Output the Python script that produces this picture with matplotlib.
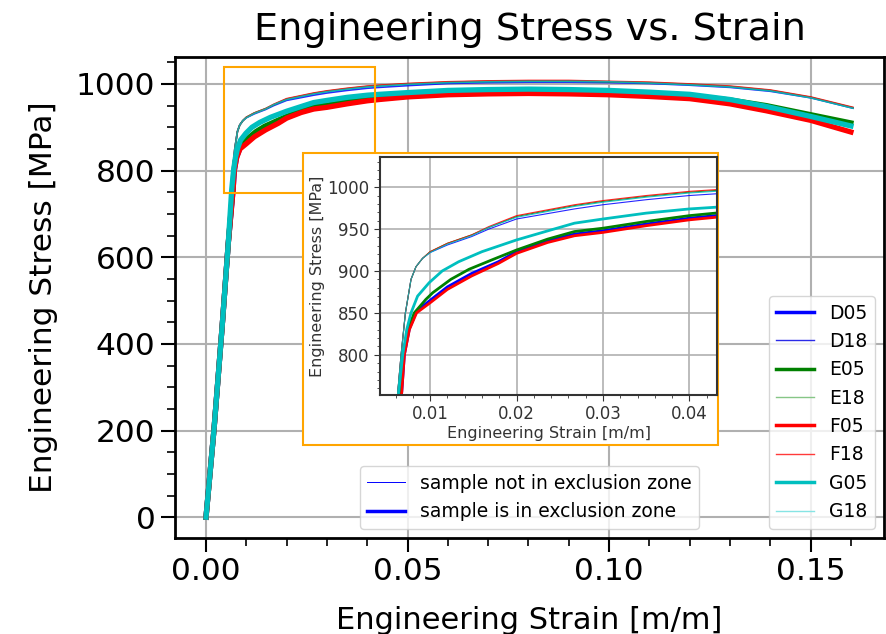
import numpy as np
import matplotlib.pyplot as plt
from matplotlib.lines import Line2D
from matplotlib.patches import Rectangle
from matplotlib.ticker import MultipleLocator

# ---- data ----
tail = [0.050, 0.060, 0.070, 0.080, 0.090, 0.100, 0.110, 0.120, 0.130, 0.140, 0.150, 0.1605]

# "18" samples (thin lines, upper group)
strain_18 = [0, 0.002, 0.004, 0.00626, 0.00664, 0.00714, 0.00779, 0.00836, 0.00912, 0.010,
             0.012, 0.0148, 0.0168, 0.020, 0.0267, 0.030, 0.035, 0.040, 0.043] + tail
d18 = [0, 205, 440, 756, 800, 850, 890, 905, 915, 922, 931, 941, 950, 962, 974, 979, 985, 990, 992,
       996, 1001, 1003, 1004, 1004, 1003, 1001, 997, 992, 983, 968, 944]
e18 = [0, 205, 440, 756, 800, 850, 890, 905, 915, 923, 933, 943, 952, 965, 978, 983, 989, 994, 996,
       1000, 1004, 1006, 1007, 1007, 1005, 1003, 999, 994, 985, 969, 945]
f18 = [0, 205, 440, 756, 800, 850, 890, 905, 915, 923, 933, 943, 953, 966, 979, 984, 990, 995, 997,
       1001, 1005, 1007, 1008, 1008, 1006, 1004, 1000, 995, 986, 970, 946]
g18 = [0, 205, 440, 756, 800, 850, 890, 905, 915, 922, 932, 942, 952, 964, 977, 982, 988, 993, 995,
       999, 1003, 1005, 1006, 1006, 1005, 1002, 998, 993, 984, 968, 944]

# "05" samples (thick lines, lower group)
tail05 = [0.050, 0.060, 0.070, 0.080, 0.090, 0.100, 0.110, 0.120, 0.130, 0.139, 0.150, 0.160]
strain_f05 = [0, 0.002, 0.004, 0.0055, 0.00672, 0.00702, 0.0076, 0.00843, 0.010, 0.012, 0.0148,
              0.0179, 0.020, 0.0236, 0.0267, 0.030, 0.035, 0.040, 0.043] + tail05
f05 = [0, 205, 440, 630, 756, 800, 830, 850, 862, 878, 894, 909, 921, 934, 942, 946, 954, 961, 964,
       970, 975, 977, 978, 977, 975, 971, 966, 954, 938, 916, 889]
strain_d05 = strain_f05[:-2]
d05 = [0, 205, 440, 630, 756, 800, 831, 852, 865, 881, 897, 911, 923, 936, 944, 948, 956, 963, 966,
       972, 977, 979, 980, 979, 977, 974, 969, 957, 941]
strain_e05 = [0, 0.002, 0.004, 0.0055, 0.00664, 0.0069, 0.0074, 0.00817, 0.0095, 0.0103, 0.0124,
              0.0145, 0.0171, 0.020, 0.0236, 0.0267, 0.030, 0.035, 0.040, 0.043] + tail05
e05 = [0, 205, 440, 630, 756, 800, 830, 850, 866, 874, 890, 902, 913, 925, 938, 947, 951, 959, 966, 969,
       975, 980, 983, 984, 984, 982, 978, 973, 963, 950, 929, 910]
strain_g05 = [0, 0.002, 0.004, 0.0055, 0.00637, 0.00683, 0.00729, 0.00779, 0.00855, 0.00989, 0.0114,
              0.0133, 0.016, 0.020, 0.024, 0.0267, 0.030, 0.035, 0.040, 0.043] + tail05
g05 = [0, 205, 440, 630, 756, 800, 830, 850, 870, 886, 900, 911, 923, 937, 949, 957, 962, 969, 974, 976,
       980, 985, 987, 988, 987, 985, 981, 976, 964, 948, 925, 903]

samples = ["D05", "D18", "E05", "E18", "F05", "F18", "G05", "G18"]
strains = [strain_d05, strain_18, strain_e05, strain_18, strain_f05, strain_18, strain_g05, strain_18]
stresses = [d05, d18, e05, e18, f05, f18, g05, g18]
colors = ["b", "b", "g", "g", "r", "r", "c", "c"]
legend_colors = ["b", "#2a2ae8", "g", "#86c686", "r", "#ff3a3a", "c", "#86e4e4"]

fig = plt.figure(figsize=(8.86, 6.34), dpi=100)
ax = fig.add_axes([0.1975, 0.1514, 0.8002, 0.7586])

for name, x, y, c in zip(samples, strains, stresses, colors):
    thick = name.endswith("05")
    ax.plot(x, y, color=c, lw=3.8 if thick else 1.2, alpha=1 if thick else 0.85)

ax.set_xlim(-0.0077, 0.1682)
ax.set_ylim(-48, 1062)
ax.set_title("Engineering Stress vs. Strain", fontsize=27.5, pad=12)
ax.set_xlabel("Engineering Strain [m/m]", fontsize=22, labelpad=14)
ax.set_ylabel("Engineering Stress [MPa]", fontsize=22.5, labelpad=13)
ax.xaxis.set_major_locator(MultipleLocator(0.05))
ax.xaxis.set_minor_locator(MultipleLocator(0.01))
ax.yaxis.set_major_locator(MultipleLocator(200))
ax.yaxis.set_minor_locator(MultipleLocator(50))
ax.tick_params(which="major", labelsize=22.5, length=10, width=1.5, pad=4)
ax.tick_params(which="minor", length=6, width=1.2)
for s in ax.spines.values():
    s.set_linewidth(2)
ax.grid(True, color="#b0b0b0", lw=1.5)

# zoomed region marker
ax.add_patch(Rectangle((0.0045, 748), 0.0375, 291, fill=False, edgecolor="orange", lw=1.5, zorder=5))

# legends
handles = []
for name, c in zip(samples, legend_colors):
    thick = name.endswith("05")
    handles.append(Line2D([], [], color=c, lw=2.5 if thick else 1.0))
leg1 = ax.legend(handles, samples, loc="lower right", fontsize=13.5)
ax.add_artist(leg1)
zone = [Line2D([], [], color="b", lw=0.7), Line2D([], [], color="b", lw=2.5)]
ax.legend(zone, ["sample not in exclusion zone", "sample is in exclusion zone"],
          loc="lower center", fontsize=13.5)

# inset with orange frame
fig.add_artist(Rectangle((0.342, 0.2981), 0.4684, 0.4606, transform=fig.transFigure,
                         facecolor="white", edgecolor="orange", lw=1.5, zorder=1))
axin = fig.add_axes([0.4289, 0.377, 0.3804, 0.3754], zorder=2)
for name, x, y, c in zip(samples, strains, stresses, colors):
    thick = name.endswith("05")
    axin.plot(x, y, color=c, lw=2 if thick else 0.8, alpha=1 if thick else 0.85)
axin.set_xlim(0.0042, 0.0432)
axin.set_ylim(752, 1036)
axin.xaxis.set_major_locator(MultipleLocator(0.01))
axin.xaxis.set_minor_locator(MultipleLocator(0.002))
axin.yaxis.set_major_locator(MultipleLocator(50))
axin.yaxis.set_minor_locator(MultipleLocator(10))
axin.tick_params(which="major", labelsize=12, length=4, colors="#333333")
axin.tick_params(which="minor", length=2, colors="#333333")
axin.set_xlabel("Engineering Strain [m/m]", fontsize=11.5, color="#333333", labelpad=2)
axin.set_ylabel("Engineering Stress [MPa]", fontsize=11.5, color="#333333", labelpad=2)
for s in axin.spines.values():
    s.set_color("#333333")
    s.set_linewidth(1.5)
axin.grid(True, color="#b0b0b0", lw=1.2)

fig.savefig("out.png", dpi=100)
